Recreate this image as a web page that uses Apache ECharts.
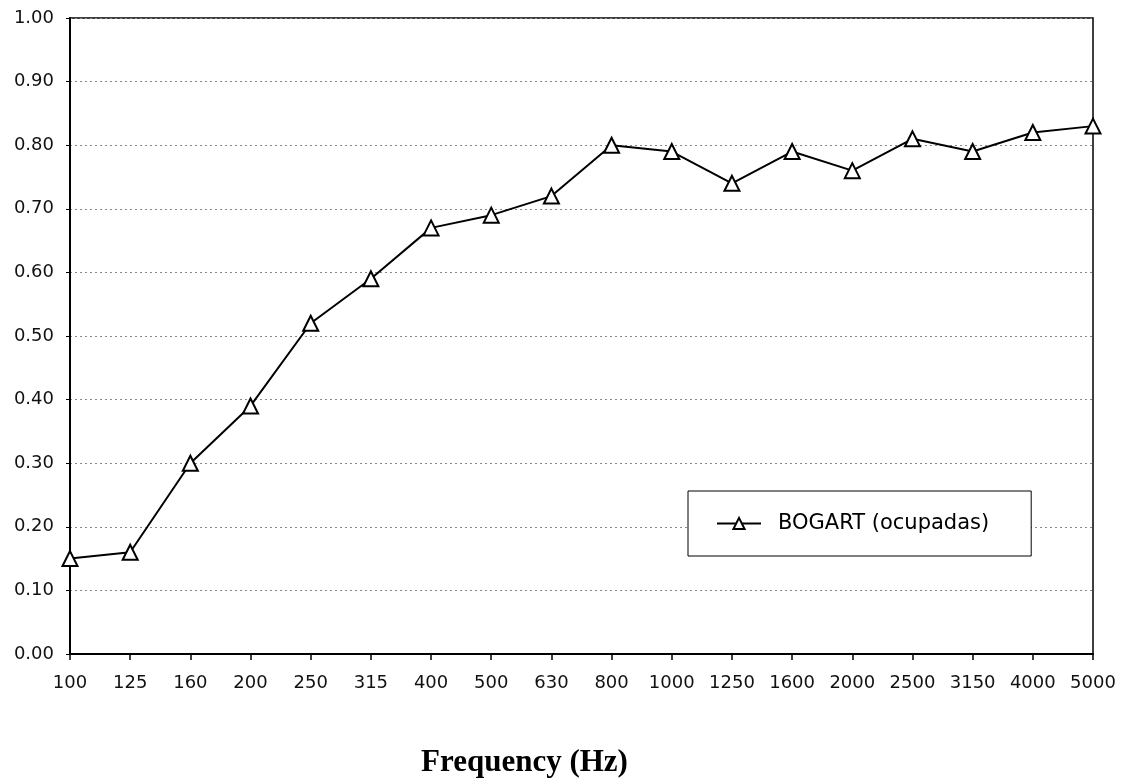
<!DOCTYPE html>
<html>
<head>
<meta charset="utf-8">
<script src="https://cdn.jsdelivr.net/npm/echarts@6/dist/echarts.min.js"></script>
<style>
html,body{margin:0;padding:0;background:#fff;}
#chart{width:1128px;height:778px;}
</style>
</head>
<body>
<div id="chart"></div>
<script>
const categories = ['100','125','160','200','250','315','400','500','630','800','1000','1250','1600','2000','2500','3150','4000','5000'];
const bogartValues = [0.15,0.16,0.30,0.39,0.52,0.59,0.67,0.69,0.72,0.80,0.79,0.74,0.79,0.76,0.81,0.79,0.82,0.83];
const seriesName = 'BOGART (ocupadas)';
const xTitle = 'Frequency (Hz)';

const chart = echarts.init(document.getElementById('chart'), null, {renderer:'canvas'});
chart.setOption({
  animation:false,
  backgroundColor:'#fff',
  grid:{left:70,right:35,top:18,bottom:124,show:true,borderColor:'#000',borderWidth:1.5,backgroundColor:'transparent'},
  title:{
    text:xTitle,
    left:416, top:742,
    textStyle:{fontFamily:'Liberation Serif',fontWeight:'bold',fontSize:31,color:'#000'}
  },
  legend:{
    data:[seriesName],
    left:688, top:491,
    orient:'horizontal',
    borderColor:'#000', borderWidth:1,
    padding:[22,42,22,28],
    itemWidth:44, itemHeight:14,
    textStyle:{fontFamily:'DejaVu Sans',fontSize:21,color:'#000',padding:[0,0,0,12]},
    backgroundColor:'#fff'
  },
  xAxis:{
    type:'category',
    data:categories,
    boundaryGap:false,
    axisLine:{lineStyle:{color:'#000',width:2}},
    axisTick:{show:true,length:6,lineStyle:{color:'#000',width:1.5}},
    axisLabel:{color:'#111',fontFamily:'DejaVu Sans',fontSize:18,margin:20},
    splitLine:{show:false}
  },
  yAxis:{
    type:'value',
    min:0,max:1,interval:0.1,
    axisLine:{show:true,lineStyle:{color:'#000',width:2}},
    axisTick:{show:true,length:4,lineStyle:{color:'#000'}},
    axisLabel:{color:'#111',fontFamily:'DejaVu Sans',fontSize:18,margin:16,formatter:v=>v.toFixed(2)},
    splitLine:{show:true,lineStyle:{color:'#888',type:[2,3],width:1}}
  },
  series:[{
    name:seriesName,
    type:'line',
    data:bogartValues,
    symbol:'triangle',
    symbolSize:15,
    showAllSymbol:true,
    lineStyle:{color:'#000',width:2},
    itemStyle:{color:'#fff',borderColor:'#000',borderWidth:2}
  }]
});
</script>
</body>
</html>
